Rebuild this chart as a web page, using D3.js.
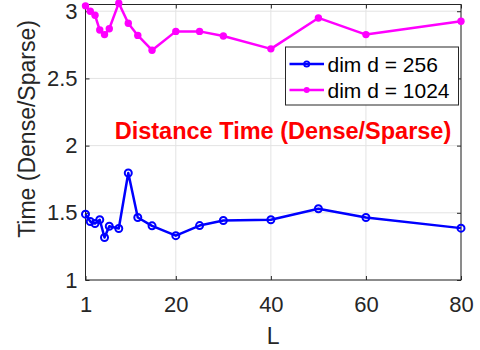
<!DOCTYPE html>
<html>
<head>
<meta charset="utf-8">
<script src="https://cdn.jsdelivr.net/npm/d3@7/dist/d3.min.js"></script>
<style>
  html, body { margin: 0; padding: 0; background: #fff; }
  svg { display: block; font-family: "Liberation Sans", Arial, Helvetica, sans-serif; }
</style>
</head>
<body>
<svg id="chart" width="480" height="350"></svg>
<script>
const L = [1, 2, 3, 4, 5, 6, 8, 10, 12, 15, 20, 25, 30, 40, 50, 60, 80];
const dim256 = [1.49, 1.435, 1.42, 1.448, 1.316, 1.40, 1.383, 1.796, 1.465, 1.403, 1.33, 1.405, 1.443, 1.448, 1.53, 1.465, 1.386];
const dim1024 = [3.04, 3.0, 2.97, 2.86, 2.826, 2.87, 3.06, 2.91, 2.82, 2.71, 2.85, 2.85, 2.816, 2.72, 2.95, 2.826, 2.925];
const xTicks = [1, 20, 40, 60, 80];
const yTicks = [1, 1.5, 2, 2.5, 3];
const seriesNames = ["dim d = 256", "dim d = 1024"];
const xLabel = "L";
const yLabel = "Time (Dense/Sparse)";
const annotation = "Distance Time (Dense/Sparse)";

const svg = d3.select("#chart");
const pL = 85.5, pR = 461, pT = 4.5, pB = 280;
const x = d3.scaleLinear().domain([1, 80]).range([pL, pR]);
const y = d3.scaleLinear().domain([1, 3.05]).range([pB, pT]);
const axisColor = "#262626";

// grid
const grid = svg.append("g");
grid.selectAll("line.vx").data(xTicks).join("line")
  .attr("x1", d => x(d)).attr("x2", d => x(d)).attr("y1", pT).attr("y2", pB)
  .attr("stroke", "#e3e3e3").attr("stroke-width", 1);
grid.selectAll("line.hy").data(yTicks).join("line")
  .attr("y1", d => y(d)).attr("y2", d => y(d)).attr("x1", pL).attr("x2", pR)
  .attr("stroke", "#e3e3e3").attr("stroke-width", 1);

// axes
const xAxisB = d3.axisBottom(x).tickValues(xTicks).tickSize(-4).tickPadding(16).tickFormat(d3.format("d"));
const xAxisT = d3.axisTop(x).tickValues(xTicks).tickSize(-4).tickFormat("");
const yAxisL = d3.axisLeft(y).tickValues(yTicks).tickSize(-4).tickPadding(8).tickFormat(d => String(d));
const yAxisR = d3.axisRight(y).tickValues(yTicks).tickSize(-4).tickFormat("");

function styleAxis(g) {
  g.select(".domain").attr("stroke", axisColor).attr("stroke-width", 1);
  g.selectAll(".tick line").attr("stroke", axisColor);
  g.selectAll(".tick text").attr("fill", axisColor).style("font-size", "22px")
    .style("font-family", "'Liberation Sans', Arial, sans-serif");
}
svg.append("g").attr("transform", `translate(0,${pB})`).call(xAxisB).call(styleAxis);
svg.append("g").attr("transform", `translate(0,${pT})`).call(xAxisT).call(styleAxis);
svg.append("g").attr("transform", `translate(${pL},0)`).call(yAxisL).call(styleAxis);
svg.append("g").attr("transform", `translate(${pR},0)`).call(yAxisR).call(styleAxis);
svg.selectAll(".domain").remove();
svg.append("rect").attr("x", pL).attr("y", pT).attr("width", pR - pL).attr("height", pB - pT)
  .attr("fill", "none").attr("stroke", axisColor).attr("stroke-width", 1);

// series
const line = d3.line().x(d => x(d[0])).y(d => y(d[1]));
const s256 = L.map((l, i) => [l, dim256[i]]);
const s1024 = L.map((l, i) => [l, dim1024[i]]);

svg.append("path").datum(s1024).attr("d", line).attr("fill", "none")
  .attr("stroke", "#ff00ff").attr("stroke-width", 2.5).attr("stroke-linejoin", "round");
svg.append("g").selectAll("circle").data(s1024).join("circle")
  .attr("cx", d => x(d[0])).attr("cy", d => y(d[1])).attr("r", 3.7).attr("fill", "#ff00ff");

svg.append("path").datum(s256).attr("d", line).attr("fill", "none")
  .attr("stroke", "#0000ff").attr("stroke-width", 2.5).attr("stroke-linejoin", "round");
svg.append("g").selectAll("circle").data(s256).join("circle")
  .attr("cx", d => x(d[0])).attr("cy", d => y(d[1])).attr("r", 3.5)
  .attr("fill", "none").attr("stroke", "#0000ff").attr("stroke-width", 2);

// axis labels
svg.append("text").attr("x", x(40.5)).attr("y", 344).attr("text-anchor", "middle")
  .attr("fill", axisColor).style("font-size", "23px").text(xLabel);
svg.append("text").attr("transform", `translate(35,129) rotate(-90)`).attr("text-anchor", "middle")
  .attr("fill", axisColor).style("font-size", "23px").text(yLabel);

// annotation
svg.append("text").attr("x", 283).attr("y", 139).attr("text-anchor", "middle")
  .attr("fill", "#ff0000").style("font-size", "23.5px").style("font-weight", "bold").text(annotation);

// legend
const lg = svg.append("g");
lg.append("rect").attr("x", 285.5).attr("y", 47).attr("width", 173).attr("height", 58)
  .attr("fill", "#fff").attr("stroke", axisColor).attr("stroke-width", 1);
const legendItems = [
  { name: seriesNames[0], color: "#0000ff", filled: false, yy: 64 },
  { name: seriesNames[1], color: "#ff00ff", filled: true, yy: 90 }
];
legendItems.forEach(it => {
  lg.append("line").attr("x1", 289.5).attr("x2", 324).attr("y1", it.yy).attr("y2", it.yy)
    .attr("stroke", it.color).attr("stroke-width", 2.5);
  lg.append("circle").attr("cx", 306.7).attr("cy", it.yy).attr("r", it.filled ? 3 : 2.6)
    .attr("fill", it.filled ? it.color : "none").attr("stroke", it.color).attr("stroke-width", it.filled ? 0 : 1.8);
  lg.append("text").attr("x", 327.5).attr("y", it.yy).attr("dy", "0.36em")
    .attr("fill", "#000").style("font-size", "21px").text(it.name);
});
</script>
</body>
</html>
